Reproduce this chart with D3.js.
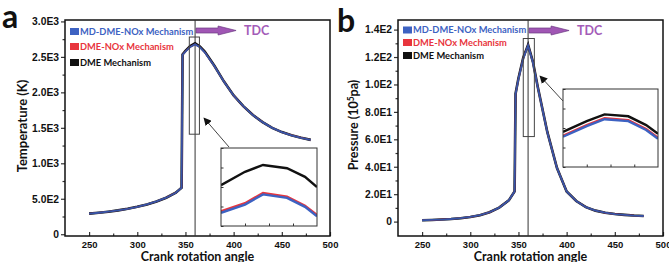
<!DOCTYPE html>
<html>
<head>
<meta charset="utf-8">
<script src="https://cdn.jsdelivr.net/npm/d3@7"></script>
<style>
  body { margin: 0; background: #fff; }
  svg { display: block; font-family: Lato, "Open Sans", sans-serif; font-weight: bold; }
</style>
</head>
<body>
<svg id="chart" width="669" height="262"></svg>
<script>
// crank angle samples (deg)
const angles = [250, 260, 270, 280, 290, 300, 310, 320, 330, 340, 346, 347, 350, 355, 360, 365, 370, 380, 390, 400, 410, 420, 430, 440, 450, 460, 470, 480];

// temperature (K)
const tempMD  = [290, 303, 318, 336, 358, 386, 420, 462, 515, 585, 655, 2530, 2575, 2640, 2676, 2635, 2565, 2370, 2150, 1955, 1805, 1680, 1580, 1500, 1440, 1395, 1360, 1330];
const tempNOx = [290, 303, 318, 336, 358, 386, 420, 462, 515, 585, 655, 2530, 2576, 2641, 2677, 2636, 2566, 2370, 2150, 1955, 1805, 1680, 1580, 1500, 1440, 1395, 1360, 1330];
const tempDME = [290, 303, 318, 336, 358, 386, 420, 462, 515, 585, 655, 2534, 2584, 2652, 2691, 2648, 2574, 2374, 2152, 1956, 1805, 1680, 1580, 1500, 1440, 1395, 1360, 1330];

// pressure (10^5 Pa)
const presMD  = [1.0, 1.2, 1.5, 1.9, 2.5, 3.4, 4.7, 6.8, 10.2, 15.5, 22, 93, 104, 119, 128.4, 116, 98, 65, 39, 22, 15, 10.5, 8, 6.5, 5.5, 4.9, 4.4, 4.1];
const presNOx = [1.0, 1.2, 1.5, 1.9, 2.5, 3.4, 4.7, 6.8, 10.2, 15.5, 22, 93, 104.1, 119.1, 128.5, 116.1, 98.1, 65, 39, 22, 15, 10.5, 8, 6.5, 5.5, 4.9, 4.4, 4.1];
const presDME = [1.0, 1.2, 1.5, 1.9, 2.5, 3.4, 4.7, 6.8, 10.2, 15.5, 22, 93.3, 104.5, 119.6, 128.9, 116.5, 98.4, 65.2, 39.1, 22, 15, 10.5, 8, 6.5, 5.5, 4.9, 4.4, 4.1];

// zoomed insets near TDC
const insetAngles = [356, 358, 359.5, 361.5, 363, 364];
const insetTempMD  = [2666.8, 2671.0, 2676.2, 2674.4, 2669.8, 2665.0];
const insetTempNOx = [2667.5, 2671.7, 2676.9, 2675.1, 2670.4, 2665.7];
const insetTempDME = [2680.9, 2687.8, 2691.3, 2689.6, 2685.2, 2680.0];
const insetPresMD  = [127.1, 128.2, 128.9, 128.7, 127.8, 126.9];
const insetPresNOx = [127.2, 128.3, 129.0, 128.8, 127.9, 127.0];
const insetPresDME = [127.6, 128.7, 129.4, 129.2, 128.3, 127.4];

const xTicks = [250, 300, 350, 400, 450, 500];
const tempTicks = [0, 500, 1000, 1500, 2000, 2500, 3000];
const tempTickLabels = ['0', '5.0E2', '1.0E3', '1.5E3', '2.0E3', '2.5E3', '3.0E3'];
const presTicks = [0, 20, 40, 60, 80, 100, 120, 140];
const presTickLabels = ['0', '2.0E1', '4.0E1', '6.0E1', '8.0E1', '1.0E2', '1.2E2', '1.4E2'];
const legendNames = ['MD-DME-NOx Mechanism', 'DME-NOx Mechanism', 'DME Mechanism'];
const tdcAngle = 360;

const colors = { md: '#3455a8', nox: '#e8353d', dme: '#111111' };
const legendColors = ['#3d62c2', colors.nox, colors.dme];

let svg = d3.select('#chart');

let defs = svg.append('defs');
defs.append('marker')
  .attr('id', 'head')
  .attr('viewBox', '0 0 10 10')
  .attr('refX', 9).attr('refY', 5)
  .attr('markerWidth', 8).attr('markerHeight', 8)
  .attr('markerUnits', 'userSpaceOnUse')
  .attr('orient', 'auto')
  .append('path').attr('d', 'M0,0 L10,5 L0,10 Z').attr('fill', '#111');

function drawPanel(cfg) {
  let x = d3.scaleLinear().domain([225, 500]).range([cfg.left, cfg.right]);
  let y = d3.scaleLinear().domain(cfg.yDomain).range([236, 20]);
  let g = svg.append('g');

  // x axis: ticks inward, minor every 25
  let xAxis = d3.axisBottom(x).tickValues(xTicks).tickSize(-4).tickPadding(5).tickFormat(d3.format('d'));
  let xMinor = d3.axisBottom(x).tickValues(d3.range(275, 500, 50)).tickSize(-2.5).tickFormat('');
  g.append('g').attr('transform', 'translate(0,236)').call(xMinor);
  g.append('g').attr('class', 'xaxis').attr('transform', 'translate(0,236)').call(xAxis);

  // y axis: ticks outward
  let yAxis = d3.axisLeft(y).tickValues(cfg.ticks).tickSize(4).tickPadding(2)
    .tickFormat((d, i) => cfg.tickLabels[i]);
  let yMinor = d3.axisLeft(y).tickValues(cfg.minor).tickSize(2.5).tickFormat('');
  g.append('g').attr('transform', 'translate(' + cfg.left + ',0)').call(yMinor);
  g.append('g').attr('class', 'yaxis').attr('transform', 'translate(' + cfg.left + ',0)').call(yAxis);

  g.selectAll('.domain').remove();
  g.selectAll('.tick line').attr('stroke', '#111').attr('stroke-width', 1.2);
  g.selectAll('.xaxis .tick text').attr('fill', '#111').style('font-size', '9.5px').style('font-weight', 'bold');
  g.selectAll('.yaxis .tick text').attr('fill', '#111').style('font-size', '10.3px').style('font-weight', 'bold');

  g.append('rect')
    .attr('x', cfg.left).attr('y', 20)
    .attr('width', cfg.right - cfg.left).attr('height', 216)
    .attr('fill', 'none').attr('stroke', '#111').attr('stroke-width', 1.5);

  // TDC line
  g.append('line')
    .attr('x1', x(tdcAngle)).attr('x2', x(tdcAngle))
    .attr('y1', 20).attr('y2', 236)
    .attr('stroke', '#333').attr('stroke-width', 1);

  let line = d3.line().x((d, i) => x(angles[i])).y(d => y(d));
  g.append('path').attr('d', line(cfg.dme)).attr('fill', 'none').attr('stroke', colors.dme).attr('stroke-width', 2.6);
  g.append('path').attr('d', line(cfg.nox)).attr('fill', 'none').attr('stroke', colors.nox).attr('stroke-width', 1.4);
  g.append('path').attr('d', line(cfg.md)).attr('fill', 'none').attr('stroke', colors.md).attr('stroke-width', 1.8);

  // zoom marker rectangle
  g.append('rect')
    .attr('x', x(cfg.markX[0])).attr('y', y(cfg.markY[1]))
    .attr('width', x(cfg.markX[1]) - x(cfg.markX[0]))
    .attr('height', y(cfg.markY[0]) - y(cfg.markY[1]))
    .attr('fill', 'none').attr('stroke', '#444').attr('stroke-width', 1);

  // legend
  legendNames.forEach(function (name, i) {
    let ly = cfg.legendY[i];
    g.append('rect').attr('x', cfg.left + 5).attr('y', ly - 3.5).attr('width', 9).attr('height', 7).attr('fill', legendColors[i]);
    g.append('text').attr('x', cfg.left + 15).attr('y', ly + 3.3)
      .attr('fill', legendColors[i]).style('font-size', '9.3px').text(name);
  });

  // TDC arrow
  let ax = x(tdcAngle) + 1, ay = 30.5;
  g.append('path')
    .attr('d', 'M' + ax + ',' + (ay - 2.5) + ' h22 v-2 l18,4.5 l-18,4.5 v-2 h-22 Z')
    .attr('fill', '#a056b4').attr('stroke', '#6b3a83').attr('stroke-width', 0.7);
  g.append('text').attr('x', ax + 48).attr('y', ay + 4.5)
    .attr('fill', '#a35cb8').style('font-size', '12.5px').text('TDC');

  // inset
  let ib = cfg.inset;
  let ix = d3.scaleLinear().domain([356, 364]).range([ib.x0, ib.x1]);
  let iy = d3.scaleLinear().domain(cfg.insetDomain).range([ib.y1, ib.y0]);
  let clipId = 'clip' + cfg.name;
  defs.append('clipPath').attr('id', clipId).append('rect')
    .attr('x', ib.x0).attr('y', ib.y0).attr('width', ib.x1 - ib.x0).attr('height', ib.y1 - ib.y0);
  g.append('rect').attr('x', ib.x0).attr('y', ib.y0).attr('width', ib.x1 - ib.x0).attr('height', ib.y1 - ib.y0)
    .attr('fill', '#fff');
  let ig = g.append('g').attr('clip-path', 'url(#' + clipId + ')');
  let iline = d3.line().x((d, i) => ix(insetAngles[i])).y(d => iy(d));
  ig.append('path').attr('d', iline(cfg.insetDme)).attr('fill', 'none').attr('stroke', colors.dme).attr('stroke-width', 2.4);
  ig.append('path').attr('d', iline(cfg.insetNox)).attr('fill', 'none').attr('stroke', colors.nox).attr('stroke-width', 2.4);
  ig.append('path').attr('d', iline(cfg.insetMd)).attr('fill', 'none').attr('stroke', '#3d62c2').attr('stroke-width', 2.4);
  g.append('g').attr('transform', 'translate(0,' + ib.y1 + ')')
    .call(d3.axisBottom(ix).tickValues([358, 360, 362]).tickSize(-2.5).tickFormat(''))
    .call(s => s.select('.domain').remove());
  g.append('g').attr('transform', 'translate(' + ib.x0 + ',0)')
    .call(d3.axisLeft(iy).ticks(4).tickSize(-2.5).tickFormat(''))
    .call(s => s.select('.domain').remove());
  g.selectAll('.tick line').attr('stroke', '#333');
  g.append('rect').attr('x', ib.x0).attr('y', ib.y0).attr('width', ib.x1 - ib.x0).attr('height', ib.y1 - ib.y0)
    .attr('fill', 'none').attr('stroke', '#333').attr('stroke-width', 1);

  // pointer from inset to marker
  g.append('line')
    .attr('x1', cfg.pointer[0]).attr('y1', cfg.pointer[1])
    .attr('x2', cfg.pointer[2]).attr('y2', cfg.pointer[3])
    .attr('stroke', '#444').attr('stroke-width', 1)
    .attr('marker-end', 'url(#head)');

  // titles
  g.append('text')
    .attr('x', (cfg.left + cfg.right) / 2).attr('y', 260.5)
    .attr('text-anchor', 'middle').attr('fill', '#111').style('font-size', '12.5px')
    .text('Crank rotation angle');
  let yt = g.append('text')
    .attr('transform', 'translate(' + cfg.titleX + ',' + cfg.titleY + ') rotate(-90)')
    .attr('text-anchor', 'middle').attr('fill', '#111').style('font-size', cfg.titleSize);
  cfg.yTitle(yt);

  g.append('text').attr('x', cfg.labelPos[0]).attr('y', cfg.labelPos[1])
    .attr('fill', '#111').style('font-size', '32px').text(cfg.name);
}

drawPanel({
  name: 'a', left: 65, right: 330,
  yDomain: [-25, 3020], ticks: tempTicks, tickLabels: tempTickLabels,
  minor: d3.range(250, 3000, 500),
  md: tempMD, nox: tempNOx, dme: tempDME,
  markX: [354, 364.5], markY: [1410, 2780],
  legendY: [31.5, 46.5, 62.5],
  inset: { x0: 221, x1: 317, y0: 148, y1: 226 },
  insetDomain: [2660, 2700],
  insetMd: insetTempMD, insetNox: insetTempNOx, insetDme: insetTempDME,
  pointer: [229, 147, 204, 118],
  titleX: 27, titleY: 126, titleSize: '13px',
  yTitle: t => t.text('Temperature (K)'),
  labelPos: [2, 28]
});

drawPanel({
  name: 'b', left: 398, right: 663,
  yDomain: [-10.5, 147], ticks: presTicks, tickLabels: presTickLabels,
  minor: d3.range(10, 140, 20),
  md: presMD, nox: presNOx, dme: presDME,
  markX: [355, 366.5], markY: [62, 133.5],
  legendY: [30, 42.5, 55.5],
  inset: { x0: 563, x1: 658, y0: 89, y1: 167 },
  insetDomain: [124, 132],
  insetMd: insetPresMD, insetNox: insetPresNOx, insetDme: insetPresDME,
  pointer: [563, 101, 540, 76],
  titleX: 358, titleY: 125, titleSize: '12.5px',
  yTitle: t => {
    t.append('tspan').text('Pressure (10');
    t.append('tspan').attr('dy', -4).style('font-size', '8.5px').text('5');
    t.append('tspan').attr('dy', 4).text('pa)');
  },
  labelPos: [337, 32]
});
</script>
</body>
</html>
